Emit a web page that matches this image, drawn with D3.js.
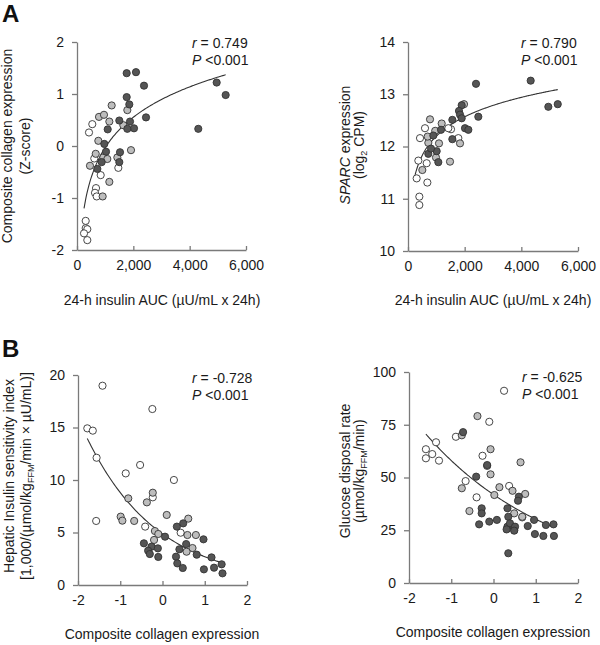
<!DOCTYPE html>
<html><head><meta charset="utf-8">
<script src="https://cdn.jsdelivr.net/npm/d3@7"></script>
<style>
body{margin:0;background:#fff}
text{font-family:"Liberation Sans", Arial, sans-serif;}
</style>
</head><body>
<svg id="c" width="600" height="645"></svg>
<script>
// ---------------- DATA ----------------
// Panel A-left: 24-h insulin AUC vs composite collagen expression (Z-score)
const aucCollWhite = [[543,0.42],[426,0.26],[614,-0.24],[841,-0.56],[675,-0.81],[639,-0.90],[699,-0.97],[309,-1.44],[309,-1.58],[366,-1.60],[249,-1.68],[366,-1.81],[1467,-0.42]];
const aucCollGray  = [[1231,0.78],[1787,0.69],[781,0.56],[958,0.60],[1148,0.47],[1645,0.40],[757,0.10],[1917,-0.08],[665,-0.15],[935,-0.22],[1077,-0.25],[1432,-0.22],[461,-0.38],[1148,-0.69],[911,-0.97]];
const aucCollDark  = [[1764,1.40],[2094,1.42],[2379,1.16],[1764,0.94],[1857,0.80],[1502,0.49],[2450,0.55],[1882,0.47],[2024,0.34],[1787,0.33],[1090,0.32],[4306,0.33],[970,0.04],[1030,-0.11],[1527,-0.12],[1502,-0.31],[876,-0.31],[722,-0.44],[4959,1.22],[5278,0.98]];
// Panel A-right: 24-h insulin AUC vs SPARC expression (log2 CPM)
const aucSparcWhite = [[600,12.35],[424,12.16],[365,11.73],[659,11.68],[306,11.39],[683,11.31],[400,11.04],[400,10.88],[1518,12.33],[1777,12.16],[1424,12.35]];
const aucSparcGray  = [[777,12.52],[1189,12.44],[1977,12.81],[717,12.07],[1094,12.06],[988,11.79],[1483,11.71],[1836,12.06],[506,11.55],[694,12.19],[960,12.30]];
const aucSparcDark  = [[2400,13.20],[4330,13.26],[4953,12.76],[5285,12.81],[1895,12.79],[1800,12.68],[1836,12.61],[2482,12.57],[1895,12.54],[1565,12.51],[2012,12.35],[2130,12.32],[1165,12.32],[894,12.21],[1565,12.14],[717,11.86],[1070,11.70],[1012,11.91],[812,11.96]];
// Panel B-left: composite collagen vs hepatic insulin sensitivity index
const collHepWhite = [[-1.42,18.98],[-1.78,14.92],[-1.65,14.70],[-1.56,12.12],[-0.24,16.76],[-0.87,10.63],[-0.53,11.43],[0.27,10.0],[-1.57,6.10],[-0.23,8.35],[-0.41,5.56],[0.43,4.98]];
const collHepGray  = [[-0.23,8.79],[-0.37,7.87],[-0.81,8.25],[-0.99,6.51],[-0.95,6.13],[-0.67,6.10],[0.10,6.67],[0.61,6.32],[-0.18,5.14],[-0.10,4.86],[-0.20,4.29],[0.59,4.76],[0.79,4.76],[0.71,3.52],[0.57,3.17]];
const collHepDark  = [[0.34,5.56],[0.49,5.87],[0.06,4.60],[-0.44,3.97],[-0.26,3.65],[-0.34,3.27],[-0.30,2.95],[-0.11,3.49],[-0.10,2.67],[0.40,3.40],[0.56,3.90],[0.32,2.70],[0.35,2.06],[0.48,1.62],[0.81,2.89],[0.97,4.35],[1.16,2.63],[1.22,1.65],[0.98,1.49],[1.40,1.97],[1.42,1.11]];
// Panel B-right: composite collagen vs glucose disposal rate
const collGdrWhite = [[0.25,91.1],[-0.10,76.4],[-1.36,66.7],[-1.60,63.4],[-1.45,61.1],[-1.60,59.1],[-1.29,58.0],[-0.89,69.3],[-0.26,60.3],[-0.66,48.3],[-0.40,40.6],[0.37,46.0],[0.68,31.1]];
const collGdrGray  = [[-0.38,79.1],[-0.75,70.0],[-0.07,63.4],[0.64,57.2],[-0.15,55.5],[-0.07,51.5],[-0.75,44.9],[0.14,45.4],[0.45,43.7],[0.75,42.2],[0.02,41.7],[-0.57,34.1],[0.49,33.0],[0.68,31.4],[0.49,25.1]];
const collGdrDark  = [[-0.72,71.5],[-0.15,55.9],[-0.41,50.4],[0.60,40.9],[0.58,39.0],[-0.28,35.4],[-0.28,33.0],[-0.34,27.8],[-0.10,29.1],[0.08,29.9],[0.33,35.4],[0.35,31.4],[0.33,26.7],[0.39,28.3],[0.51,26.7],[0.49,24.8],[0.81,27.0],[0.96,29.9],[1.24,27.5],[1.42,27.8],[0.98,23.2],[1.18,22.3],[1.43,22.3],[0.35,14.1],[0.31,25.4]];

// Fitted trend curves (coefficients)
const fitAucColl  = {type:"log", a:-5.843, b:0.8415, from:249, to:5278};
const fitAucSparc = {type:"log", a:8.503, b:0.535, from:250, to:5285};
const fitCollHep  = {type:"exp", a:4.87, b:-0.5915, from:-1.78, to:1.40};
const fitCollGdr  = {type:"exp", a:41.9, b:-0.3258, from:-1.60, to:1.35};

// Tick values
const ticksAuc   = [0,2000,4000,6000];
const ticksZ     = [-2,-1,0,1,2];
const ticksSparc = [10,11,12,13,14];
const ticksColl  = [-2,-1,0,1,2];
const ticksHep   = [0,5,10,15,20];
const ticksGdr   = [0,25,50,75,100];

// Stats labels
const statsLabels = [["0.749","<0.001"],["0.790","<0.001"],["-0.728","<0.001"],["-0.625","<0.001"]];

// ---------------- DRAW ----------------
const svg = d3.select("#c");
svg.append("rect").attr("width",600).attr("height",645).attr("fill","#fff");
const fills = {white:"#ffffff", gray:"#bdbdbd", dark:"#555555"};

function panel(cfg){
  const x = d3.scaleLinear().domain(cfg.xDomain).range(cfg.xRange);
  const y = d3.scaleLinear().domain(cfg.yDomain).range(cfg.yRange);
  const g = svg.append("g");
  const fmtPlain = d => String(d);

  const ya = g.append("g").attr("transform",`translate(${cfg.xRange[0]},0)`)
    .call(d3.axisLeft(y).tickValues(cfg.yTicks).tickSizeInner(5).tickSizeOuter(0).tickPadding(8).tickFormat(fmtPlain));
  const xa = g.append("g").attr("transform",`translate(0,${cfg.yRange[0]})`)
    .call(d3.axisBottom(x).tickValues(cfg.xTicks).tickSizeInner(-4).tickSizeOuter(0).tickPadding(10).tickFormat(cfg.xFmt || fmtPlain));
  [ya,xa].forEach(a=>{
    a.selectAll("path,line").attr("stroke","#7a7a7a").attr("stroke-width",1.3);
    a.selectAll("text").attr("fill","#1a1a1a").attr("font-size",14).style("font-family",'"Liberation Sans", Arial, sans-serif');
  });

  // trend curve
  const f = cfg.fit;
  const fn = f.type==="log" ? (v => f.a + f.b*Math.log(v)) : (v => f.a*Math.exp(f.b*v));
  const xs = d3.range(0,101).map(i => f.from + (f.to-f.from)*i/100);
  g.append("path").datum(xs)
    .attr("d", d3.line().x(v=>x(v)).y(v=>y(fn(v))).curve(d3.curveBasis))
    .attr("fill","none").attr("stroke","#333").attr("stroke-width",1.1);

  // points
  [["white",cfg.white],["gray",cfg.gray],["dark",cfg.dark]].forEach(([k,arr])=>{
    g.append("g").selectAll("circle").data(arr).join("circle")
      .attr("cx",d=>x(d[0])).attr("cy",d=>y(d[1])).attr("r",3.6)
      .attr("fill",fills[k]).attr("stroke","#333").attr("stroke-width",0.9);
  });

  // stats
  const st = g.append("text").attr("x",cfg.statX).attr("y",cfg.statY).attr("font-size",14).attr("fill","#1a1a1a");
  st.append("tspan").attr("font-style","italic").text("r");
  st.append("tspan").text(" = " + cfg.stats[0]);
  const sp = g.append("text").attr("x",cfg.statX).attr("y",cfg.statY+17).attr("font-size",14).attr("fill","#1a1a1a");
  sp.append("tspan").attr("font-style","italic").text("P");
  sp.append("tspan").text(" " + cfg.stats[1]);

  // x title
  g.append("text").attr("x",cfg.xTitlePos[0]).attr("y",cfg.xTitlePos[1]).attr("text-anchor","middle")
    .attr("font-size",14).attr("fill","#1a1a1a").text(cfg.xTitle);

  // y title lines
  cfg.yTitle.forEach((parts,i)=>{
    const t = g.append("text")
      .attr("transform",`translate(${cfg.yTitleX[i]},${cfg.yTitleY}) rotate(-90)`)
      .attr("text-anchor","middle").attr("font-size",14).attr("fill","#1a1a1a");
    parts.forEach(p=>{
      const ts = t.append("tspan").text(p.t);
      if(p.i) ts.attr("font-style","italic");
      if(p.sub){ ts.attr("font-size",9).attr("baseline-shift","-3"); }
    });
  });
}

panel({xDomain:[0,6000], xRange:[77,246], yDomain:[-2,2], yRange:[250,42],
  xTicks:ticksAuc, yTicks:ticksZ, xFmt:d3.format(","),
  white:aucCollWhite, gray:aucCollGray, dark:aucCollDark, fit:fitAucColl,
  stats:statsLabels[0], statX:192, statY:48,
  xTitle:"24-h insulin AUC (µU/mL x 24h)", xTitlePos:[162,305],
  yTitle:[[{t:"Composite collagen expression"}],[{t:"(Z-score)"}]], yTitleX:[12,30], yTitleY:146});

panel({xDomain:[0,6000], xRange:[408,578], yDomain:[10,14], yRange:[251,42],
  xTicks:ticksAuc, yTicks:ticksSparc, xFmt:d3.format(","),
  white:aucSparcWhite, gray:aucSparcGray, dark:aucSparcDark, fit:fitAucSparc,
  stats:statsLabels[1], statX:521, statY:48,
  xTitle:"24-h insulin AUC (µU/mL x 24h)", xTitlePos:[493,305],
  yTitle:[[{t:"SPARC",i:true},{t:" expression"}],[{t:"(log"},{t:"2",sub:true},{t:" CPM)"}]], yTitleX:[350,364], yTitleY:145});

panel({xDomain:[-2,2], xRange:[78,247], yDomain:[0,20], yRange:[585,375],
  xTicks:ticksColl, yTicks:ticksHep,
  white:collHepWhite, gray:collHepGray, dark:collHepDark, fit:fitCollHep,
  stats:statsLabels[2], statX:192, statY:383,
  xTitle:"Composite collagen expression", xTitlePos:[162,639],
  yTitle:[[{t:"Hepatic Insulin sensitivity index"}],[{t:"[1,000/(µmol/kg"},{t:"FFM",sub:true},{t:"/min × µU/mL)]"}]], yTitleX:[14,31], yTitleY:476});

panel({xDomain:[-2,2], xRange:[409,578], yDomain:[0,100], yRange:[583,372],
  xTicks:ticksColl, yTicks:ticksGdr,
  white:collGdrWhite, gray:collGdrGray, dark:collGdrDark, fit:fitCollGdr,
  stats:statsLabels[3], statX:522, statY:382,
  xTitle:"Composite collagen expression", xTitlePos:[493,637],
  yTitle:[[{t:"Glucose disposal rate"}],[{t:"(µmol/kg"},{t:"FFM",sub:true},{t:"/min)"}]], yTitleX:[350,364], yTitleY:471});

// panel letters
svg.append("text").attr("x",2).attr("y",22).attr("font-size",24).attr("font-weight","bold").attr("fill","#111").text("A");
svg.append("text").attr("x",2).attr("y",357).attr("font-size",24).attr("font-weight","bold").attr("fill","#111").text("B");
</script>
</body></html>
